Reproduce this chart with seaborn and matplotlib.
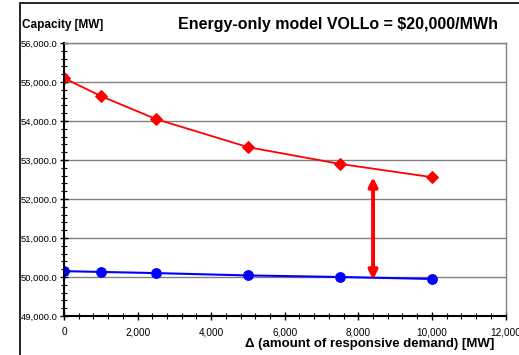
import matplotlib
matplotlib.use("Agg")
import matplotlib.pyplot as plt
import seaborn as sns
import pandas as pd
from matplotlib.ticker import MultipleLocator, FuncFormatter
from matplotlib.patches import Rectangle

delta = [0, 1000, 2500, 5000, 7500, 10000]
cap_red = [55100, 54640, 54050, 53330, 52900, 52560]
cap_blue = [50150, 50130, 50100, 50040, 50000, 49950]
arrow_x = 8400
arrow_top = 52560
arrow_bottom = 49930

sns.set_theme(style="white")
plt.rcParams['font.family'] = ['Liberation Sans', 'DejaVu Sans']
plt.rcParams['text.color'] = 'black'
plt.rcParams['xtick.color'] = 'black'
plt.rcParams['ytick.color'] = 'black'

fig = plt.figure(figsize=(5.19, 3.55), dpi=100)
ax = fig.add_axes([64/519, 1-316/355, (505.5-64)/519, (316-43)/355])

df = pd.DataFrame({"delta": delta + delta,
                   "cap": cap_red + cap_blue,
                   "series": ["red"] * len(delta) + ["blue"] * len(delta)})
sns.lineplot(data=df[df.series == "red"], x="delta", y="cap", color="#ff0000",
             marker="D", markersize=6, markeredgecolor="#ff0000", linewidth=1.3, ax=ax)
sns.lineplot(data=df[df.series == "blue"], x="delta", y="cap", color="#0000ff",
             marker="o", markersize=7, markeredgecolor="#0000ff", linewidth=1.5, ax=ax)

ax.annotate("", xy=(arrow_x, arrow_top), xytext=(arrow_x, arrow_bottom),
            arrowprops=dict(arrowstyle="<|-|>", color="#ff0000", lw=2.8,
                            mutation_scale=13, shrinkA=0, shrinkB=0))

ax.set_xlim(0, 12000)
ax.set_ylim(49000, 56000)
ax.xaxis.set_major_locator(MultipleLocator(2000))
ax.xaxis.set_minor_locator(MultipleLocator(400))
ax.yaxis.set_major_locator(MultipleLocator(1000))
ax.yaxis.set_minor_locator(MultipleLocator(200))
ax.xaxis.set_major_formatter(FuncFormatter(lambda v, p: f"{v:,.0f}"))
ax.yaxis.set_major_formatter(FuncFormatter(lambda v, p: f"{v:,.1f}"))
ax.tick_params(axis="both", which="both", top=False, right=False, bottom=True, left=True)
ax.tick_params(axis="x", which="major", direction="inout", length=6, width=1,
               labelsize=7.2, pad=5)
ax.tick_params(axis="x", which="minor", direction="inout", length=4, width=0.8)
ax.tick_params(axis="y", which="major", direction="inout", length=6, width=1,
               labelsize=6.8, pad=1.5)
ax.tick_params(axis="y", which="minor", direction="inout", length=4, width=0.8)
ax.grid(axis="y", which="major", color="#808080", linewidth=1)
ax.set_axisbelow(True)
for s in ["top", "right"]:
    ax.spines[s].set_color("#808080")
    ax.spines[s].set_linewidth(1)
for s in ["left", "bottom"]:
    ax.spines[s].set_color("black")
    ax.spines[s].set_linewidth(1.5)
ax.set_xlabel("")
ax.set_ylabel("")

fig.text(22/519, 1-25/355, "Capacity [MW]", fontsize=8.5, fontweight="bold", va="center", ha="left")
fig.text(338/519, 1-25/355, "Energy-only model VOLLo = $20,000/MWh", fontsize=11.5,
         fontweight="bold", va="center", ha="center")
fig.text(370/519, 1-344/355, "Δ (amount of responsive demand) [MW]", fontsize=9.5,
         fontweight="bold", va="center", ha="center")

fig.patches.append(Rectangle((20/519, -0.05), 1.1, 1 - 3/355 + 0.05, transform=fig.transFigure,
                             fill=False, edgecolor="black", linewidth=1.2))

fig.savefig("out.png", dpi=100)
